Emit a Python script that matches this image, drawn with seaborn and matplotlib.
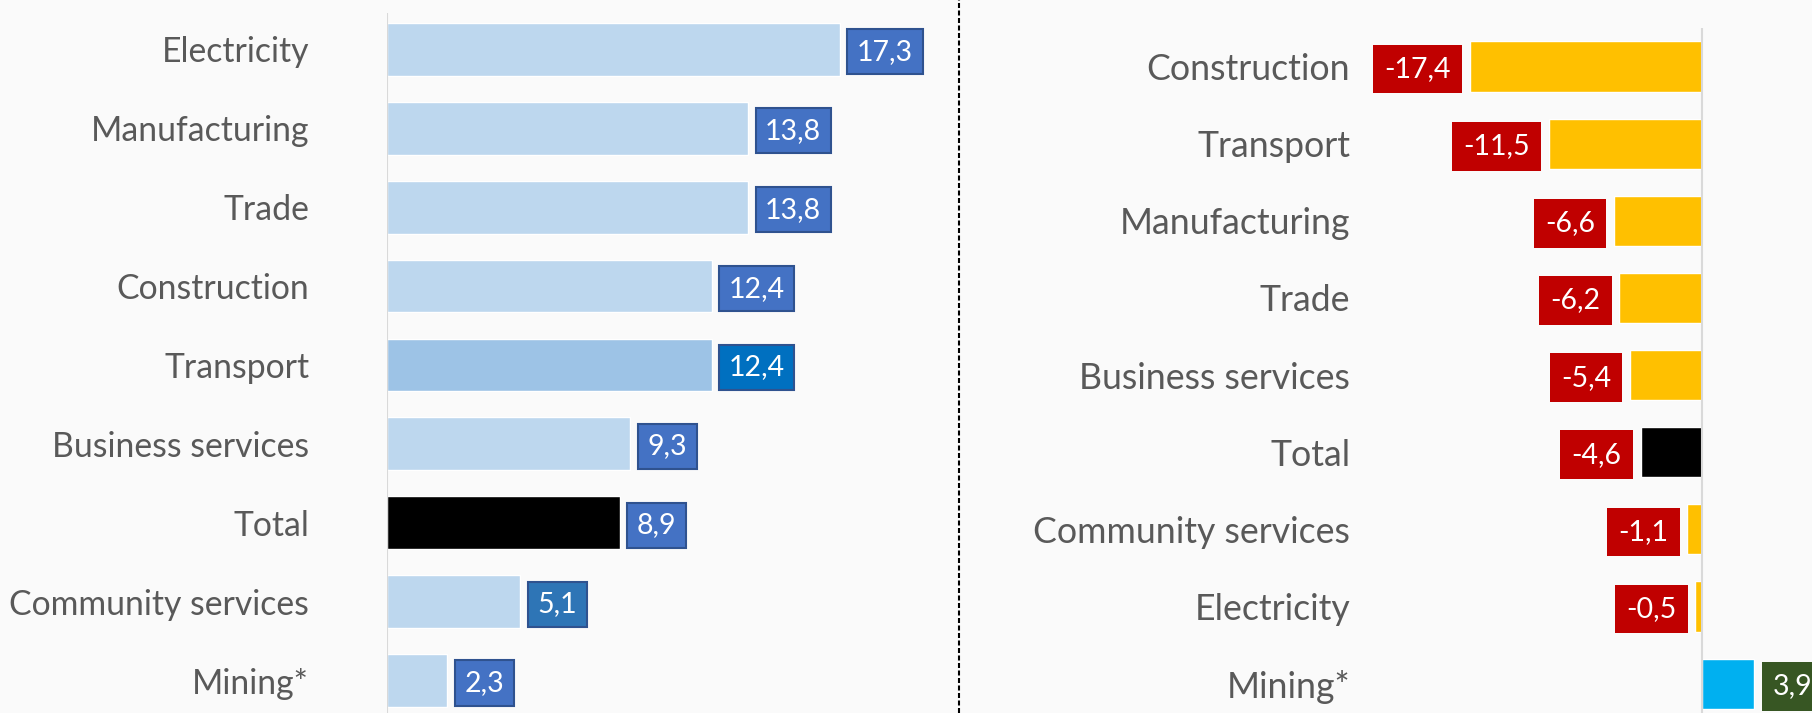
import seaborn as sns
import matplotlib.pyplot as plt
import pandas as pd
from matplotlib.lines import Line2D

# left panel: sorted growth by sector
left_sectors = ["Electricity", "Manufacturing", "Trade", "Construction", "Transport",
                "Business services", "Total", "Community services", "Mining*"]
left_values = [17.3, 13.8, 13.8, 12.4, 12.4, 9.3, 8.9, 5.1, 2.3]
left_bar_colors = ["#BDD7EE", "#BDD7EE", "#BDD7EE", "#BDD7EE", "#9DC3E6",
                   "#BDD7EE", "#000000", "#BDD7EE", "#BDD7EE"]
left_box_colors = ["#4472C4", "#4472C4", "#4472C4", "#4472C4", "#0070C0",
                   "#4472C4", "#4472C4", "#2E75B6", "#4472C4"]

# right panel: change by sector
right_sectors = ["Construction", "Transport", "Manufacturing", "Trade", "Business services",
                 "Total", "Community services", "Electricity", "Mining*"]
right_values = [-17.4, -11.5, -6.6, -6.2, -5.4, -4.6, -1.1, -0.5, 3.9]
right_bar_colors = ["#FFC000", "#FFC000", "#FFC000", "#FFC000", "#FFC000",
                    "#000000", "#FFC000", "#FFC000", "#00B0F0"]
right_box_colors = ["#C00000"] * 8 + ["#375623"]

bg = "#FAFAFA"
label_color = "#595959"
W, H = 1812, 713

sns.set_style("white")
plt.rcParams["font.family"] = ["Lato", "DejaVu Sans"]

fig = plt.figure(figsize=(W / 100, H / 100), dpi=100, facecolor=bg)

ax1 = fig.add_axes([387 / W, 0, 568 / W, 700 / H])
ax2 = fig.add_axes([1360 / W, 0, 452 / W, 685 / H])

df_left = pd.DataFrame({"sector": left_sectors, "value": left_values})
df_right = pd.DataFrame({"sector": right_sectors, "value": right_values})

sns.barplot(data=df_left, x="value", y="sector", hue="sector", palette=left_bar_colors,
            legend=False, width=0.67, ax=ax1, saturation=1)
sns.barplot(data=df_right, x="value", y="sector", hue="sector", palette=right_bar_colors,
            legend=False, width=0.65, ax=ax2, saturation=1)

fs_box = 20.5

for ax in (ax1, ax2):
    ax.set_facecolor(bg)
    ax.set(xlabel="", ylabel="")
    ax.set_xticks([])
    for s in ax.spines.values():
        s.set_visible(False)
    ax.tick_params(axis="y", length=0, labelcolor=label_color)

ax1.set_xlim(0, 21.7)
ax1.set_ylim(8.41, -0.46)
ax1.tick_params(axis="y", pad=56, labelsize=24.3)
ax1.axvline(0, color="#D9D9D9", lw=1.5)

ax2.set_xlim(-25.66, 8.25)
ax2.set_ylim(8.38, -0.5)
ax2.tick_params(axis="y", pad=7, labelsize=25.7)
ax2.axvline(0, color="#D9D9D9", lw=1.5)

for i, v in enumerate(left_values):
    ax1.annotate(f"{v:.1f}".replace(".", ","), xy=(v, i), xytext=(17, 0),
                 textcoords="offset pixels", ha="left", va="center_baseline",
                 color="white", fontsize=fs_box,
                 bbox=dict(boxstyle="square,pad=0.34", fc=left_box_colors[i],
                           ec="#2F528F", lw=1.5))

for i, v in enumerate(right_values):
    txt = f"{v:.1f}".replace(".", ",")
    if v < 0:
        ax2.annotate(txt, xy=(v, i), xytext=(-19, 0), textcoords="offset pixels",
                     ha="right", va="center_baseline", color="white", fontsize=fs_box,
                     bbox=dict(boxstyle="square,pad=0.4", fc=right_box_colors[i], ec="none"))
    else:
        ax2.annotate(txt, xy=(v, i), xytext=(19, 0), textcoords="offset pixels",
                     ha="left", va="center_baseline", color="white", fontsize=fs_box,
                     bbox=dict(boxstyle="square,pad=0.4", fc=right_box_colors[i], ec="none"))

# dashed separator between the panels
fig.add_artist(Line2D([959 / W, 959 / W], [0, 1], transform=fig.transFigure,
                      color="black", lw=1.5, dashes=(2.4, 1.2)))

fig.savefig("out.png", dpi=100, facecolor=bg)
